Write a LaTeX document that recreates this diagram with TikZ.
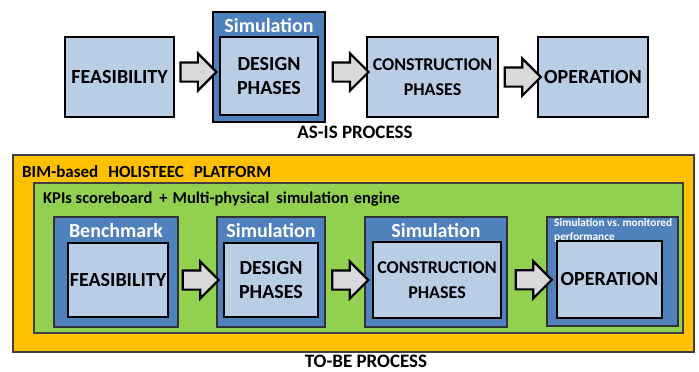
\documentclass[tikz,border=0pt]{standalone}
\usepackage{fontspec}
\setmainfont{Carlito}
\usetikzlibrary{shapes.arrows,shadows}
\definecolor{lblue}{HTML}{B9CDE5}
\definecolor{mblue}{HTML}{4F81BD}
\definecolor{orng}{HTML}{FFC000}
\definecolor{grn}{HTML}{92D050}
\definecolor{agray}{HTML}{D9D9D9}
\tikzset{
  phase/.style={draw=black, fill=lblue, line width=2.6pt, align=center,
    font=\fontsize{20}{24}\selectfont\bfseries, inner sep=0pt,
    drop shadow={shadow xshift=1.2pt, shadow yshift=-1.2pt, opacity=0.35}},
  simtop/.style={draw=black, fill=mblue, line width=2pt, inner sep=0pt,
    drop shadow={shadow xshift=1.2pt, shadow yshift=-1.2pt, opacity=0.35}},
  simbox/.style={draw=black!80, fill=mblue, line width=1.2pt, inner sep=0pt},
  wtitle/.style={text=white, font=\fontsize{20}{24}\selectfont\bfseries, inner sep=0pt},
  blk/.style={single arrow, draw=black, fill=agray, line width=2.2pt,
    minimum height=36pt, inner xsep=0pt, inner ysep=8.5pt,
    single arrow head extend=9pt, single arrow tip angle=90},
  caption/.style={font=\fontsize{19}{23}\selectfont\bfseries, inner sep=0pt},
}
\begin{document}
\begin{tikzpicture}[x=1pt,y=-1pt]
\useasboundingbox (0,0) rectangle (699,372);
% ---------- AS-IS row ----------
\node[phase, minimum width=109pt, minimum height=80pt] (feas) at (119.5,77) {FEASIBILITY};
\node[simtop, minimum width=112pt, minimum height=110pt] (sim1) at (269,67) {};
\node[wtitle] (sim1t) at (269,26) {Simulation};
\node[phase, minimum width=98pt, minimum height=78pt] (des) at (269,76) {DESIGN\\PHASES};
\node[phase, minimum width=131pt, minimum height=80pt, font=\fontsize{18}{25}\selectfont\bfseries] (con) at (432.5,77) {CONSTRUCTION\\PHASES};
\node[phase, minimum width=110pt, minimum height=80pt] (op) at (593,77) {OPERATION};
\path (feas.east) -- (sim1.west) node[midway, blk] (a1) {};
\path (sim1.east) -- (con.west) node[midway, blk] (a2) {};
\path (con.east) -- (op.west) node[midway, blk] (a3) {};
\node[caption] (asis) at (355,132) {AS-IS PROCESS};
% ---------- TO-BE ----------
\node[draw=black!75, line width=1.3pt, fill=orng, minimum width=681pt, minimum height=197pt, inner sep=0pt] (plat) at (353.5,253.5) {};
\node[anchor=west, font=\fontsize{17}{20}\selectfont\bfseries, inner sep=0pt] (platt) at (22,172) {BIM-based\hspace{10pt}HOLISTEEC\hspace{10pt}PLATFORM};
\node[draw=black!75, line width=1.3pt, fill=grn, minimum width=649pt, minimum height=150pt, inner sep=0pt] (kpi) at (358.5,258) {};
\node[anchor=west, font=\fontsize{16.5}{19}\selectfont\bfseries, inner sep=0pt] (kpit) at (43,199) {KPIs scoreboard\hspace{7pt}+\hspace{5pt}Multi-physical\hspace{7pt}simulation\hspace{5pt}engine};
% benchmark
\node[simbox, minimum width=124pt, minimum height=110pt] (bench) at (116,272) {};
\node[wtitle] (bencht) at (116,231) {Benchmark};
\node[phase, minimum width=100pt, minimum height=74pt] (feas2) at (118,280) {FEASIBILITY};
% simulation 2
\node[simbox, minimum width=108pt, minimum height=110pt] (sim2) at (271,272) {};
\node[wtitle] (sim2t) at (271,231) {Simulation};
\node[phase, minimum width=94pt, minimum height=74pt] (des2) at (271,280) {DESIGN\\PHASES};
% simulation 3
\node[simbox, minimum width=142pt, minimum height=110pt] (sim3) at (436,272) {};
\node[wtitle] (sim3t) at (436,231) {Simulation};
\node[phase, minimum width=128pt, minimum height=76pt, font=\fontsize{18}{25}\selectfont\bfseries] (con2) at (437,280) {CONSTRUCTION\\PHASES};
% simulation vs monitored
\node[simbox, minimum width=131pt, minimum height=109pt] (sim4) at (612.5,271.5) {};
\node[anchor=north west, text=white, align=left, font=\fontsize{11.3}{14}\selectfont\bfseries, inner sep=0pt] (sim4t) at (554,218) {Simulation vs.\ monitored\\performance};
\node[phase, minimum width=105pt, minimum height=77pt] (op2) at (609.5,279.5) {OPERATION};
\path (feas2.east) -- (des2.west) node[midway, blk] (b1) {};
\path (des2.east) -- (con2.west) node[midway, blk] (b2) {};
\path (con2.east) -- (op2.west) node[midway, blk] (b3) {};
\node[caption] (tobe) at (366,361) {TO-BE PROCESS};
\end{tikzpicture}
\end{document}
